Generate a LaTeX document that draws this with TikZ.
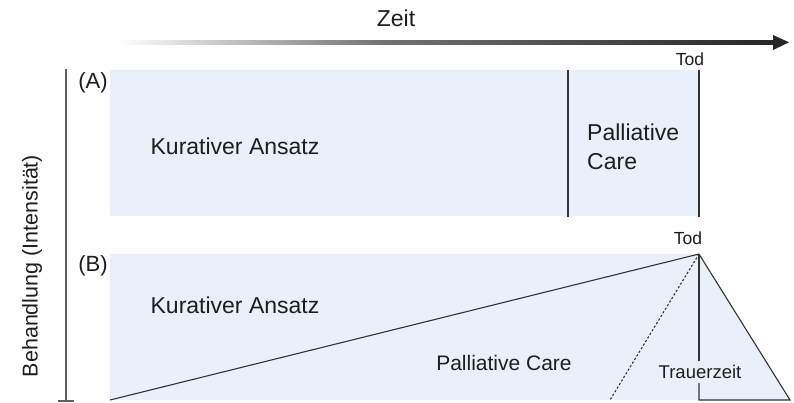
\documentclass[tikz,border=0pt]{standalone}
\usepackage{fontspec}
\setmainfont{Liberation Sans}
\begin{document}
\begin{tikzpicture}[x=1pt,y=-1pt,
  dline/.style={draw=lineg,line width=1.1pt},
  lbl/.style={inner sep=0pt,text=txt,font=\fontsize{23}{29}\selectfont},
  tiny/.style={inner sep=0pt,text=txt,font=\fontsize{17.5}{20}\selectfont}]
\definecolor{boxblue}{HTML}{EAF0FA}
\definecolor{lineg}{HTML}{333333}
\definecolor{txt}{HTML}{1E1E1E}
\useasboundingbox[fill=white] (0,0) rectangle (794,402);
% time arrow
\shade[left color=white,right color=black!55] (117,40.6) rectangle (380,44.0);
\shade[left color=black!55,right color=black!85] (379.5,40.6) rectangle (775,44.0);
\fill[black!85] (773,35) -- (789,42.3) -- (773,50) -- cycle;
\node[lbl] (zeit) at (396,18) {Zeit};
% vertical axis
\draw[gray!75!black,line width=1.7pt] (65.7,69) coordinate (ytop) -- (65.7,401) coordinate (ybot);
\draw[gray!75!black,line width=1.7pt] (58,401) -- (74,401);
\node[lbl,rotate=90,font=\fontsize{21.5}{26}\selectfont] (beh) at (32,266) {Behandlung (Intensität)};
% panel A
\fill[boxblue] (110,70) rectangle (699,216);
\draw[dline] (568,70) -- (568,217);
\draw[dline] (699,70) -- (699,217);
\node[lbl,font=\fontsize{22}{26}\selectfont] (A) at (93,83) {(A)};
\node[lbl] (kurA) at (235,146) {Kurativer Ansatz};
\node[lbl,align=left,anchor=west] (palA) at (587,147) {Palliative\\Care};
\node[tiny] (todA) at (690,59) {Tod};
% panel B
\fill[boxblue] (110,254) rectangle (699,400);
\fill[boxblue] (699,254) -- (790,400) -- (699,400) -- cycle;
\coordinate (apex) at (699,254);
\draw[dline] (110,400) -- (apex);
\draw[dline] (apex) -- (790,400) -- (699,400) -- (699,383);
\draw[dline] (apex) -- (699,361);
\draw[draw=lineg,line width=1.1pt,dash pattern=on 2.2pt off 2pt] (apex) -- (610,400);
\node[lbl,font=\fontsize{22}{26}\selectfont] (B) at (93,266) {(B)};
\node[lbl] (kurB) at (235,305) {Kurativer Ansatz};
\node[lbl,font=\fontsize{21}{25}\selectfont] (palB) at (504,363) {Palliative Care};
\node[tiny,font=\fontsize{18.5}{22}\selectfont] (trauer) at (700,372) {Trauerzeit};
\node[tiny] (todB) at (688,238) {Tod};
\end{tikzpicture}
\end{document}
